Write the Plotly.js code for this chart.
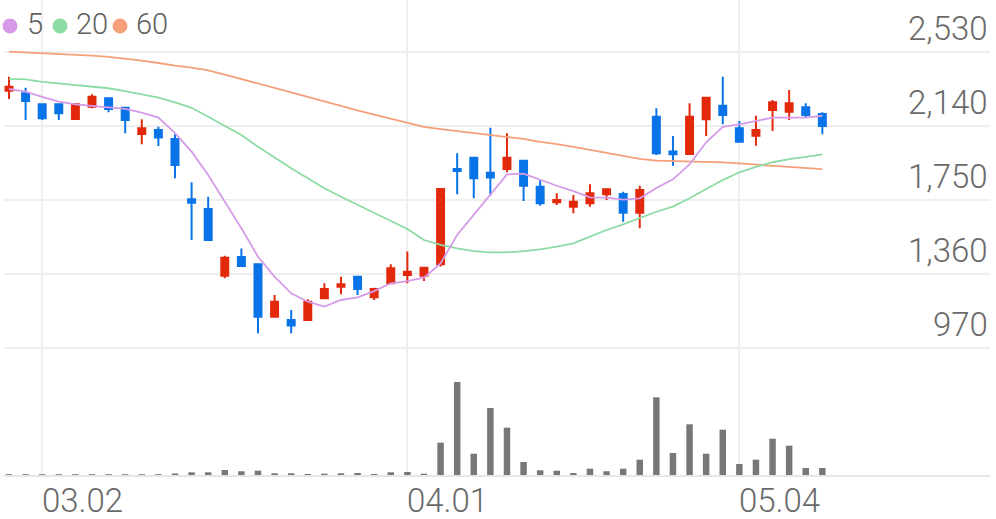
<!DOCTYPE html>
<html><head><meta charset="utf-8">
<script src="https://cdn.plot.ly/plotly-3.0.1.min.js"></script>
<style>html,body{margin:0;padding:0;background:#fff;}#chart{width:996px;height:519px;}</style>
</head><body><div id="chart"></div>
<script>
const openP  = [2326,2312,2254,2254,2177,2242,2286,2236,2098,2119,2072,1754,1703,1351,1450,1411,1135,1118,1118,1232,1293,1346,1237,1311,1355,1351,1411,1913,1973,1894,1913,1957,1820,1738,1715,1733,1780,1782,1683,2189,2005,1992,2175,2247,2128,2089,2224,2215,2239,2203];
const highP  = [2400,2342,2258,2256,2256,2307,2290,2240,2175,2136,2096,1843,1767,1456,1495,1415,1249,1170,1227,1311,1346,1350,1288,1411,1478,1395,1810,1996,1977,2131,2102,1962,1855,1785,1776,1833,1810,1794,1825,2233,2087,2260,2291,2400,2166,2194,2277,2330,2260,2212];
const lowP   = [2282,2172,2172,2172,2175,2233,2212,2102,2044,2035,1864,1539,1537,1337,1400,1048,1133,1048,1112,1228,1253,1249,1223,1306,1311,1323,1399,1780,1759,1773,1896,1745,1720,1724,1680,1715,1750,1636,1601,1987,1931,1990,2087,2149,2055,2036,2114,2172,2186,2096];
const closeP = [2347,2272,2181,2207,2254,2294,2230,2172,2128,2080,1934,1736,1539,1446,1402,1135,1214,1088,1214,1281,1306,1281,1281,1390,1372,1393,1808,1903,1864,1868,1973,1825,1733,1750,1741,1785,1806,1683,1803,1996,1991,2189,2289,2198,2057,2119,2265,2260,2198,2140];
const ma5  = [2335,2321,2294,2268,2254,2245,2236,2230,2210,2184,2102,2005,1882,1741,1601,1451,1346,1258,1214,1188,1223,1237,1270,1311,1323,1341,1416,1566,1671,1776,1885,1889,1855,1825,1797,1764,1762,1752,1759,1813,1859,1938,2054,2136,2149,2168,2184,2184,2184,2194];
const ma20 = [2388,2386,2373,2365,2356,2347,2339,2324,2307,2289,2265,2236,2189,2142,2093,2031,1974,1917,1865,1812,1767,1724,1680,1639,1597,1539,1513,1495,1481,1474,1474,1481,1490,1504,1522,1557,1592,1622,1654,1688,1715,1759,1808,1855,1896,1925,1949,1965,1977,1991];
const ma60 = [2532,2528,2525,2521,2516,2511,2504,2496,2485,2472,2458,2448,2433,2411,2388,2367,2343,2317,2293,2269,2243,2222,2200,2177,2158,2135,2124,2114,2103,2093,2082,2072,2056,2045,2030,2014,1998,1982,1967,1958,1956,1953,1951,1948,1943,1935,1930,1925,1919,1913];
const volume = [8,8,8,8,8,8,8,8,8,8,15,27,27,50,37,43,17,17,10,13,17,20,10,27,30,13,323,930,213,670,473,130,47,43,20,63,37,63,153,777,220,507,213,453,110,153,363,293,70,70];
const tickIdx = [2, 24, 44];
const tickText = ['03.02', '04.01', '05.04'];
const priceTicks = [970, 1360, 1750, 2140, 2530];
const priceTickText = ['970', '1,360', '1,750', '2,140', '2,530'];
const legendNames = ['5', '20', '60'];
const maColors = ['#d59be9', '#8ddba4', '#f5a07a'];

const idx = openP.map((_, i) => i);
const upColor = '#e3290b', downColor = '#0973e8';
const labelFont = {family: 'Roboto, "Open Sans", sans-serif', size: 33, color: '#6a6a6a', weight: 300};

const traces = [
  {type: 'candlestick', x: idx, open: openP, high: highP, low: lowP, close: closeP,
   xaxis: 'x', yaxis: 'y',
   increasing: {line: {color: upColor, width: 2}, fillcolor: upColor},
   decreasing: {line: {color: downColor, width: 2}, fillcolor: downColor},
   hoverinfo: 'skip'},
  {type: 'scatter', mode: 'lines', x: idx, y: ma60, line: {color: maColors[2], width: 1.8}, xaxis: 'x', yaxis: 'y', hoverinfo: 'skip'},
  {type: 'scatter', mode: 'lines', x: idx, y: ma20, line: {color: maColors[1], width: 1.8}, xaxis: 'x', yaxis: 'y', hoverinfo: 'skip'},
  {type: 'scatter', mode: 'lines', x: idx, y: ma5, line: {color: maColors[0], width: 1.8}, xaxis: 'x', yaxis: 'y', hoverinfo: 'skip'},
  {type: 'bar', x: idx, y: volume, marker: {color: '#777777', line: {width: 0}}, xaxis: 'x2', yaxis: 'y2', hoverinfo: 'skip'}
];

const xRange = [-0.301, 59.10];
const split = 0.24632;
const gridColor = '#efefef';

const annotations = [];
priceTicks.forEach((v, i) => {
  annotations.push({xref: 'paper', yref: 'y', x: 1, y: v, xanchor: 'right', yanchor: 'bottom',
    yshift: 2, text: priceTickText[i], showarrow: false, font: labelFont});
});
tickIdx.forEach((v, i) => {
  annotations.push({xref: 'x2', yref: 'paper', x: v, y: -25 / 475, xanchor: 'left', yanchor: 'middle',
    xshift: -2, text: tickText[i], showarrow: false, font: labelFont});
});
const legendX = [6, 56, 116];
const legendTextX = [21, 70, 130];
const shapes = [];
legendNames.forEach((n, i) => {
  shapes.push({type: 'circle', xref: 'paper', yref: 'paper', xsizemode: 'pixel', ysizemode: 'pixel',
    xanchor: 0, yanchor: 1, x0: legendX[i] - 7.5, x1: legendX[i] + 7.5, y0: -33.5, y1: -18.5,
    fillcolor: maColors[i], line: {width: 0}});
  annotations.push({xref: 'paper', yref: 'paper', x: 0, y: 1 - 24 / 475, xshift: legendTextX[i],
    xanchor: 'left', yanchor: 'middle', text: n, showarrow: false,
    font: {family: 'Roboto, "Open Sans", sans-serif', size: 29, color: '#606060', weight: 300}});
});

const layout = {
  width: 996, height: 519,
  margin: {l: 4, r: 6, t: 0, b: 44},
  paper_bgcolor: '#ffffff', plot_bgcolor: '#ffffff',
  showlegend: false, hovermode: false,
  boxgap: 0.3, boxgroupgap: 0.4, bargap: 0.61,
  xaxis: {domain: [0, 1], range: xRange, anchor: 'y', tickvals: tickIdx, showticklabels: false, ticks: '',
    showgrid: true, gridcolor: gridColor, gridwidth: 2, zeroline: false, showline: false,
    rangeslider: {visible: false}, fixedrange: true},
  xaxis2: {domain: [0, 1], range: xRange, anchor: 'y2', tickvals: tickIdx, showticklabels: false, ticks: '',
    showgrid: true, gridcolor: gridColor, gridwidth: 2, zeroline: false,
    showline: true, linecolor: '#e6e6e6', linewidth: 2, fixedrange: true},
  yaxis: {domain: [split, 1], range: [917.28, 2804.05], tickvals: priceTicks, showticklabels: false, ticks: '',
    showgrid: true, gridcolor: gridColor, gridwidth: 2, zeroline: false, fixedrange: true},
  yaxis2: {domain: [0, split], range: [0, 1170], showgrid: false, showticklabels: false, ticks: '',
    zeroline: false, fixedrange: true},
  annotations: annotations,
  shapes: shapes
};

Plotly.newPlot('chart', traces, layout, {displayModeBar: false, staticPlot: true});
</script>
</body></html>
